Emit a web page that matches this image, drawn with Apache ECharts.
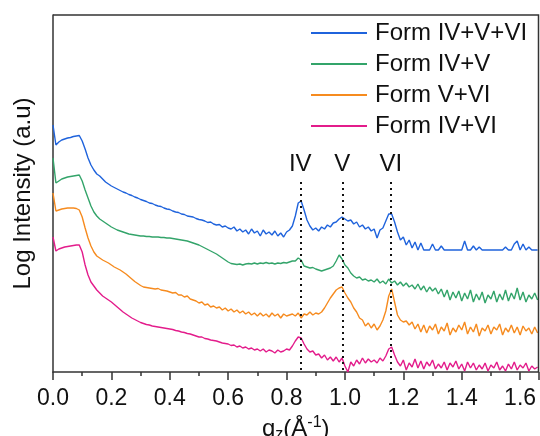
<!DOCTYPE html>
<html>
<head>
<meta charset="utf-8">
<script src="https://cdn.jsdelivr.net/npm/echarts@6/dist/echarts.min.js"></script>
<style>
  html, body { margin: 0; padding: 0; background: #fff; }
  #main { width: 540px; height: 436px; }
</style>
</head>
<body>
<div id="main"></div>
<script>
var seriesNames = ['Form IV+V+VI', 'Form IV+V', 'Form V+VI', 'Form IV+VI'];

var formIVVVI = [
  247,227,230,232,233,234,234.5,235.5,236,236.5,
  231,223,214,207,202,198,196,193,190,188,
  186,184.5,183,181.5,180,179,177.5,176.5,175,174,
  172.5,171.5,170.5,169,168.5,167,166,165.5,164,163,
  162.5,161,160,159.5,158,157.5,156,155.5,155,153.5,
  152.5,152,151,149.5,150,148,147,147.5,145,146,
  144,143,145,141,143,140,142,138,143,139,
  141,136,142,138,140,137,141,136,139,135,
  140,142,146,156,169,171,162,152,146,142,
  144,141,145,143,147,145,149,150,153,155,
  153,151,152,148,150,145,147,143,145,141,
  143,134,142,144,151,158,158,150,140,132,
  135,127,132,124,130,122,129,122,122,122,
  128,122,122,126,122,122,122,122,122,122,
  122,131,122,122,126,122,125,122,122,122,
  122,122,122,122,122,125,122,122,128,131,
  122,128,122,125,122,122,122
];

var formIVV = [
  214,189,191,193,194,195,195.5,196,196.5,197,
  191,182,174,166,160,156,153,151,149,147,
  145,143.5,142,141,140,139,138,137.5,137,136.5,
  136,136,135.5,135.5,135,135,135,134.5,134.5,134,
  134,133.5,133,132.5,132,131.5,131,130,129,128,
  127,125.5,124,122.5,121,119.5,118,116,114,112,
  110,108.5,108,107.5,108,107,108,108.5,108,109,
  108,109,108.5,109.5,108.5,109,108,109,108.5,109.5,
  109,110,111,111,114,112,106,105,104,104.5,
  103,102,101,102,103,104,106,111,117,113,
  107,104,99,96,94,95,92,93,91,92,
  90,93,89,91,88,93,89,91,87,90,
  86,89,85,87,83,88,82,86,80,85,
  81,84,78,83,75,82,72,80,74,81,
  71,79,73,82,70,78,72,80,69,77,
  73,81,70,78,72,82,71,79,73,84,
  72,80,70,77,73,79,72
];

var formVVI = [
  179,161,162,163,163.5,164,164,164,163.5,162,
  155,144,134,126,120,116,114,112,110.5,109,
  107,105,103.5,102,100,98,95.5,93,90.5,88.5,
  86.5,85,84.5,84,83.5,83,83.5,82,81.5,81,
  80,79,79.5,77,77,75,76,73,72,71,
  69,70,67,68,65,66,64,65,62,64,
  61,63,60,62,59,61,58,60,57,59,
  56,59,56,58,55,59,56,58,54,58,
  56,57,58,56,59,54,58,57,60,57,
  59,58,60,64,69,74,78,82,84,85,
  79,74,70,64,60,54,52,46,49,44,
  48,42,46,52,61,76,83,70,57,52,
  50,51,47,50,43,48,40,47,39,46,
  42,48,38,45,41,49,37,44,40,47,
  42,50,38,45,40,48,36,44,41,47,
  38,45,42,48,37,44,40,47,39,45,
  37,46,41,44,38,45,39
];

var formIVVI = [
  135,121,123,124,125,125.5,126,126.5,127,127,
  120,107,97,90,86,82,79,76,74,72,
  70,67.5,65,62.5,60,58,56,54,52.5,51,
  49.5,48.5,47.5,47,46,45.5,45,44.5,44,43.5,
  43,42.5,41.5,41,40,39.5,38.5,38,37,36,
  35,35,33.5,33,32,31.5,31,30,29,28.5,
  28,26.5,27,25,26,24,25,23,24,22,
  23,21,23,20,22,21,19,22,20,21,
  23,22,26,31,35,34,28,23,20,21,
  17,18,14,17,12,15,11,15,10,14,
  6,0,10,6,12,8,14,9,13,10,
  12,9,14,11,16,23,25,17,10,6,
  12,2,9,5,13,4,11,3,10,6,
  12,3,8,4,10,2,9,5,11,3,
  8,1,10,4,9,2,7,3,9,1,
  7,4,10,2,6,1,8,3,10,2,
  7,4,9,1,6,3,5
];

var colors = ['#1f63dc', '#33a46a', '#f68b1f', '#e31c8b'];
var peakNames = ['IV', 'V', 'VI'];
var peakPos = [0.847, 0.991, 1.157];
var peakLineTop = 190;
var xMax = 1.663, yMax = 357;

var qz = formIVVVI.map(function (v, i) { return +(i * 0.01).toFixed(2); });
function pairs(arr) { return arr.map(function (v, i) { return [qz[i], v]; }); }

var FONT = 'Liberation Sans';
var allData = [formIVVVI, formIVV, formVVI, formIVVI];
var frame = { color: '#333', width: 1.5 };

var series = allData.map(function (arr, k) {
  return {
    name: seriesNames[k],
    type: 'line',
    data: pairs(arr),
    symbol: 'none',
    lineStyle: { width: 1.4, color: colors[k] },
    itemStyle: { color: colors[k] },
    z: 2
  };
});

series[0].markLine = {
  silent: true,
  symbol: 'none',
  lineStyle: { color: '#111', type: [2, 4], width: 2 },
  label: {
    show: true,
    position: 'start',
    distance: 6,
    color: '#111',
    fontFamily: FONT,
    fontSize: 24,
    formatter: function (p) { return p.name; }
  },
  data: peakPos.map(function (x, i) {
    return [{ name: peakNames[i], coord: [x, peakLineTop] }, { coord: [x, 0] }];
  })
};

var chart = echarts.init(document.getElementById('main'));
chart.setOption({
  animation: false,
  backgroundColor: '#fff',
  grid: {
    left: 53, right: 1.5, top: 15, bottom: 64,
    outerBoundsMode: 'none',
    containLabel: false
  },
  legend: {
    orient: 'vertical',
    left: 306, top: 16,
    icon: 'rect',
    itemWidth: 56, itemHeight: 2,
    itemGap: 7,
    textStyle: { fontFamily: FONT, fontSize: 24, color: '#111', lineHeight: 24, padding: [0, 0, 0, 3] },
    data: seriesNames
  },
  xAxis: {
    type: 'value',
    min: 0, max: xMax, interval: 0.2,
    name: '{a|q}{sub|z}{a|(Å}{sup|-1}{a|)}',
    nameLocation: 'middle',
    nameGap: 31,
    nameTextStyle: {
      rich: {
        a: { fontFamily: FONT, fontSize: 24, color: '#111', lineHeight: 28 },
        sub: { fontFamily: FONT, fontSize: 16, color: '#111', verticalAlign: 'bottom', lineHeight: 16 },
        sup: { fontFamily: FONT, fontSize: 16, color: '#111', verticalAlign: 'top', lineHeight: 16 }
      }
    },
    axisLine: { onZero: false, lineStyle: frame },
    axisTick: { length: 8, lineStyle: frame },
    minorTick: { show: true, splitNumber: 2, length: 4, lineStyle: frame },
    axisLabel: {
      fontFamily: FONT, fontSize: 23, color: '#111', margin: 15,
      showMaxLabel: false,
      formatter: function (v) { return v.toFixed(1); }
    },
    splitLine: { show: false }
  },
  yAxis: {
    type: 'value',
    min: 0, max: yMax,
    name: 'Log Intensity (a.u)',
    nameLocation: 'middle',
    nameGap: 18,
    nameTextStyle: { fontFamily: FONT, fontSize: 24, color: '#111' },
    axisLine: { show: true, onZero: false, lineStyle: frame },
    axisTick: { show: false },
    axisLabel: { show: false },
    splitLine: { show: false }
  },
  series: series
});

// box around the plot: corners come from the chart's own axis scales
var tl = chart.convertToPixel({ gridIndex: 0 }, [0, yMax]);
var br = chart.convertToPixel({ gridIndex: 0 }, [xMax, 0]);
chart.setOption({
  graphic: [{
    type: 'polyline',
    silent: true,
    z: 100,
    shape: { points: [[tl[0], tl[1]], [br[0], tl[1]], [br[0], br[1]]] },
    style: { stroke: '#333', lineWidth: 1.5, fill: null }
  }]
});
</script>
</body>
</html>
